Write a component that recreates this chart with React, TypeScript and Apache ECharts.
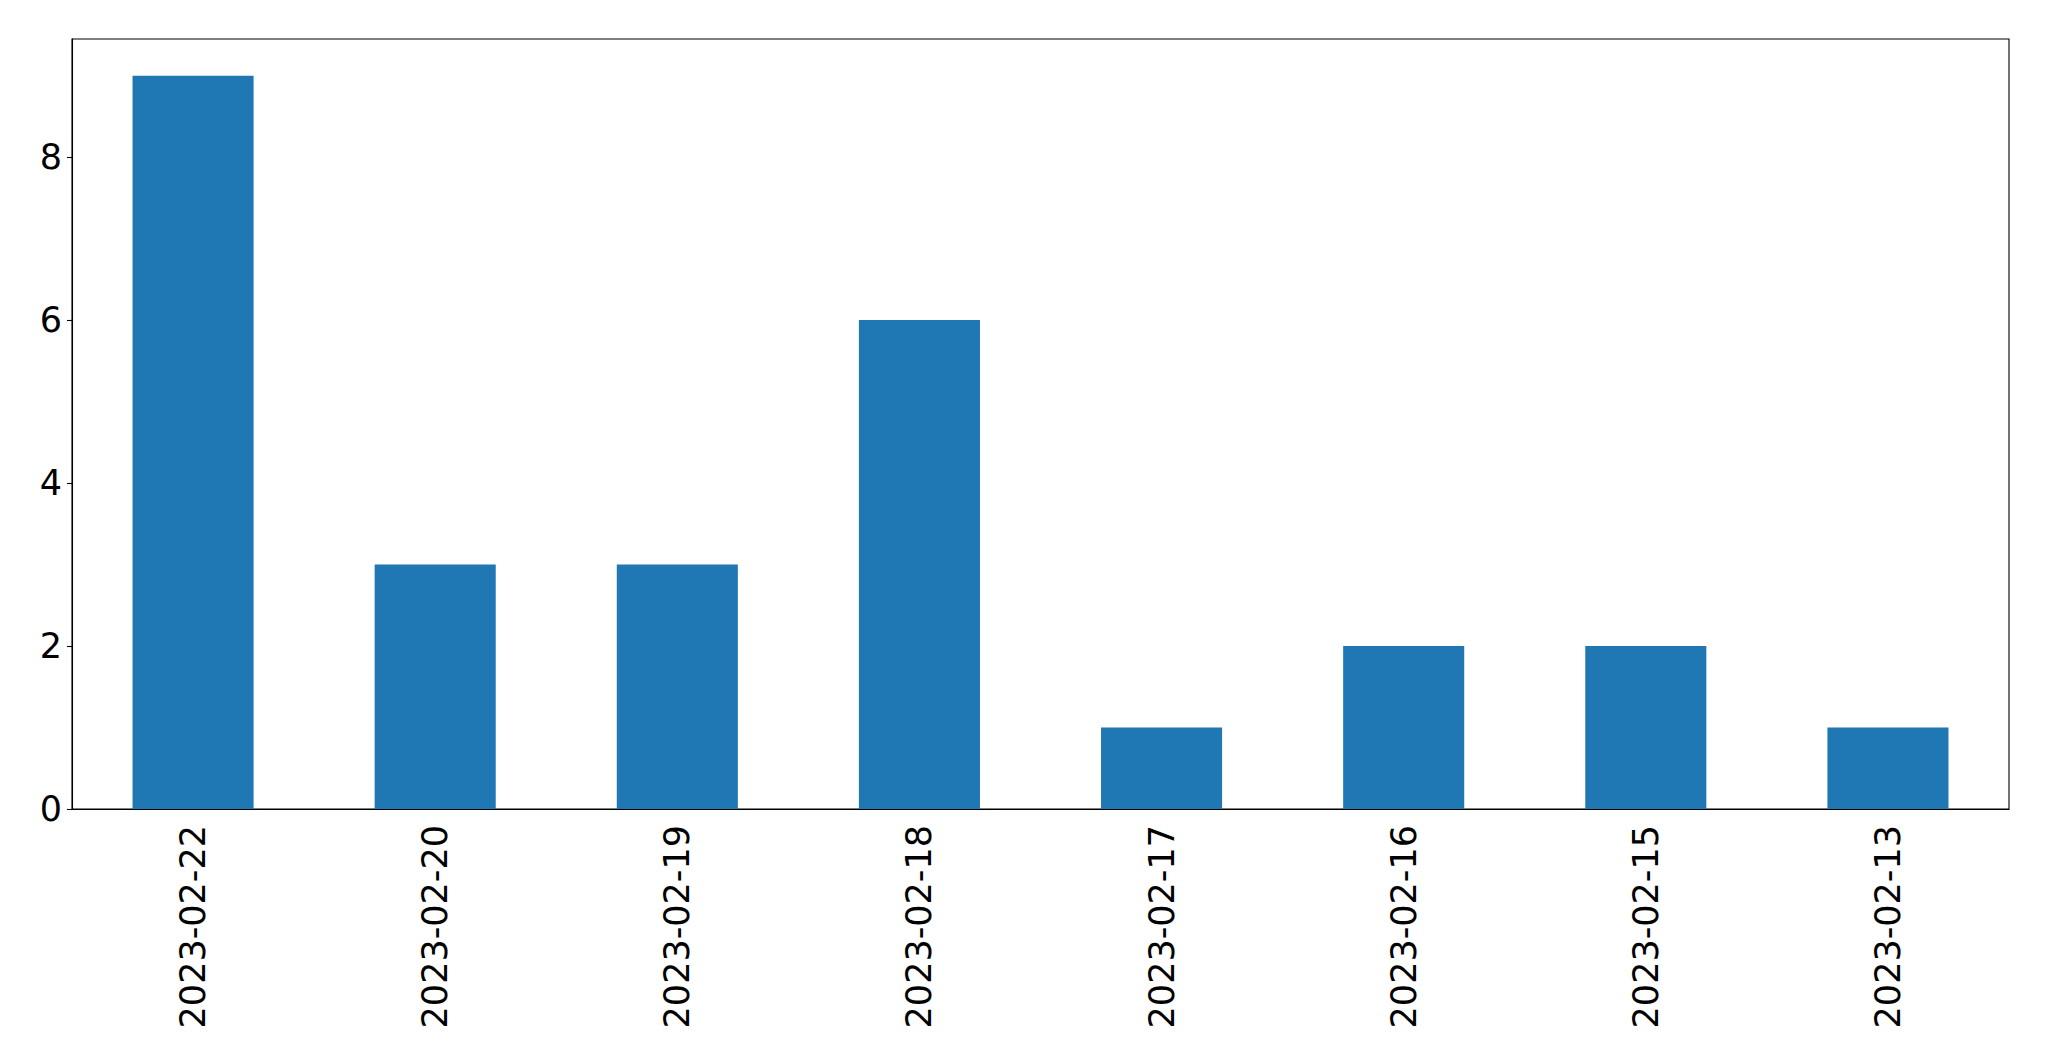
import React, { useEffect, useRef } from "react";
import * as echarts from "echarts";

const categories = ["2023-02-22", "2023-02-20", "2023-02-19", "2023-02-18", "2023-02-17", "2023-02-16", "2023-02-15", "2023-02-13"];
const values = [9, 3, 3, 6, 1, 2, 2, 1];
const yTicks = [0, 2, 4, 6, 8];

export default function App() {
  const ref = useRef<HTMLDivElement>(null);
  useEffect(() => {
    document.body.style.margin = "0";
    const chart = echarts.init(ref.current!, null, { renderer: "svg" });
    const font = "DejaVu Sans";
    chart.setOption({
      animation: false,
      backgroundColor: "#ffffff",
      grid: {
        left: 72,
        right: 40,
        top: 39,
        bottom: 252,
        show: true,
        borderColor: "#000000",
        borderWidth: 1.1,
        containLabel: false,
      },
      xAxis: {
        type: "category",
        data: categories,
        axisLine: { lineStyle: { color: "#000000", width: 1.1 } },
        axisTick: { alignWithLabel: true, length: 5, lineStyle: { color: "#000000", width: 1.1 } },
        axisLabel: {
          rotate: 90,
          margin: 16,
          color: "#000000",
          fontFamily: font,
          fontSize: 35,
          interval: 0,
        },
        splitLine: { show: false },
      },
      yAxis: {
        type: "value",
        min: 0,
        max: 9.45,
        axisLine: { show: true, lineStyle: { color: "#000000", width: 1.1 } },
        axisTick: { show: true, length: 5, customValues: yTicks, lineStyle: { color: "#000000", width: 1.1 } },
        axisLabel: {
          customValues: yTicks,
          margin: 10,
          color: "#000000",
          fontFamily: font,
          fontSize: 35,
        },
        splitLine: { show: false },
      },
      series: [
        {
          type: "bar",
          data: values,
          barWidth: "50%",
          itemStyle: { color: "#1f77b4" },
        },
      ],
    });
    return () => chart.dispose();
  }, []);
  return <div ref={ref} style={{ width: 2049, height: 1061 }} />;
}
